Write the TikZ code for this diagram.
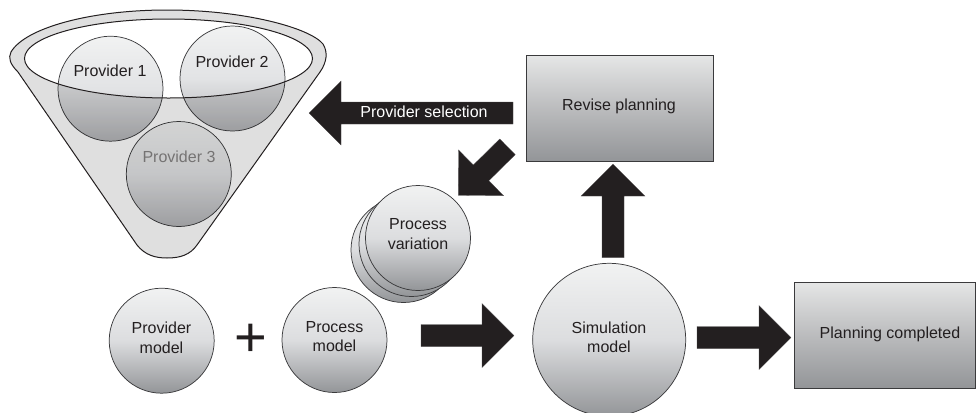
\documentclass[tikz,border=0pt]{standalone}
\usepackage{fontspec}
\setmainfont{Liberation Sans}
\usetikzlibrary{calc}
\definecolor{ink}{HTML}{231F20}
\definecolor{edge}{HTML}{3A3A3C}
\definecolor{gtop}{HTML}{F1F2F2}
\definecolor{gmid}{HTML}{DCDDDF}
\definecolor{gbot}{HTML}{939598}
\definecolor{gmidb}{HTML}{E2E3E5}
\definecolor{gbotb}{HTML}{B4B5B8}
\tikzset{
  x=0.75pt,y=-0.75pt,
  ball/.style={circle,draw=edge,line width=0.55pt,inner sep=0,minimum size=105*0.75pt,top color=gtop,bottom color=gbot,middle color=gmid},
  pball/.style={ball,bottom color=gbotb,middle color=gmidb},
  bigball/.style={ball,minimum size=153*0.75pt},
  panel/.style={rectangle,draw=edge,line width=0.7pt,inner sep=0,top color=gtop!95!black,bottom color=gbot,middle color=gmid!85!black},
  lbl/.style={text=ink,font=\fontsize{12}{14.6}\selectfont,align=center,inner sep=0},
  blockarrowfill/.style={fill=ink,draw=ink!80!white,line width=0.2pt},
}
% tail, tip: half shaft 11 px, half head 32 px, head length 32 px
\newcommand{\blockarrow}[2]{%
  \coordinate (hb) at ($(#2)!24pt!(#1)$);
  \path[blockarrowfill] ($(#1)!8.25pt!90:(#2)$) -- ($(hb)!8.25pt!-90:(#1)$) -- ($(hb)!24pt!-90:(#1)$) -- (#2)
    -- ($(hb)!24pt!90:(#1)$) -- ($(hb)!8.25pt!90:(#1)$) -- ($(#1)!8.25pt!-90:(#2)$) -- cycle;
}
\begin{document}
\begin{tikzpicture}
\useasboundingbox (0,0) rectangle (976,412);
% providers inside the funnel
\node[pball] (p1) at (110.5,88.7) {};
\node[pball] (p2) at (232.5,78.5) {};
\node[pball] (p3) at (178.8,174) {};
\node[lbl] (p1t) at (110,71) {Provider 1};
\node[lbl] (p2t) at (232,62) {Provider 2};
\node[lbl,text=ink!55!white] (p3t) at (179,157) {Provider 3};
% funnel
\def\funnelpath{(18,72) .. controls (10,64) and (8,58) .. (11,52) .. controls (25,28) and (90,10) .. (167,10) .. controls (245,10) and (310,28) .. (323,44) .. controls (328,52) and (327,62) .. (320,72) -- (197,245) .. controls (190,255) and (180,258) .. (167,258) .. controls (155,258) and (145,255) .. (137,245) -- cycle}
\fill[black,fill opacity=0.125,even odd rule] \funnelpath (168.5,58.5) ellipse [x radius=144,y radius=39.5];
\draw[ink,line width=0.75pt] \funnelpath;
\draw[ink,line width=0.75pt] (168.5,58.5) ellipse [x radius=144,y radius=39.5];
% panels
\node[panel,minimum width=187.5*0.75pt,minimum height=105.5*0.75pt] (rev) at (619.8,108.4) {};
\node[lbl] (revt) at (619,106) {Revise planning};
\node[panel,minimum width=181*0.75pt,minimum height=106*0.75pt] (done) at (885.3,335) {};
\node[lbl] (donet) at (890,334) {Planning completed};
% process variation stack
\node[ball] (v3) at (403.5,250) {};
\node[ball] (v2) at (411.5,244) {};
\node[ball] (v1) at (418,238) {};
\node[lbl] (v1t) at (418,234) {Process\\variation};
% models
\node[ball] (pv) at (161.7,340.7) {};
\node[lbl] (pvt) at (161.5,338) {Provider\\model};
\node[ball] (pc) at (334.5,340) {};
\node[lbl] (pct) at (334.5,336.5) {Process\\model};
\node[bigball] (sim) at (609.2,339.8) {};
\node[lbl] (simt) at (609,337.5) {Simulation\\model};
\node[lbl,font=\fontsize{42}{42}\selectfont] (plus) at (251,340) {+};
% block arrows
\coordinate (a1s) at (513,113); \coordinate (a1e) at (309,113);
\blockarrow{a1s}{a1e}
\node[lbl,text=white] (a1t) at (424,112) {Provider selection};
\coordinate (a2s) at (507.5,146.8); \coordinate (a2e) at (458.3,195.3);
\blockarrow{a2s}{a2e}
\coordinate (a3s) at (613,257.7); \coordinate (a3e) at (613,164);
\blockarrow{a3s}{a3e}
\coordinate (a4s) at (421,335.5); \coordinate (a4e) at (514,335.5);
\blockarrow{a4s}{a4e}
\coordinate (a5s) at (697,337.5); \coordinate (a5e) at (791,337.5);
\blockarrow{a5s}{a5e}
\end{tikzpicture}
\end{document}
